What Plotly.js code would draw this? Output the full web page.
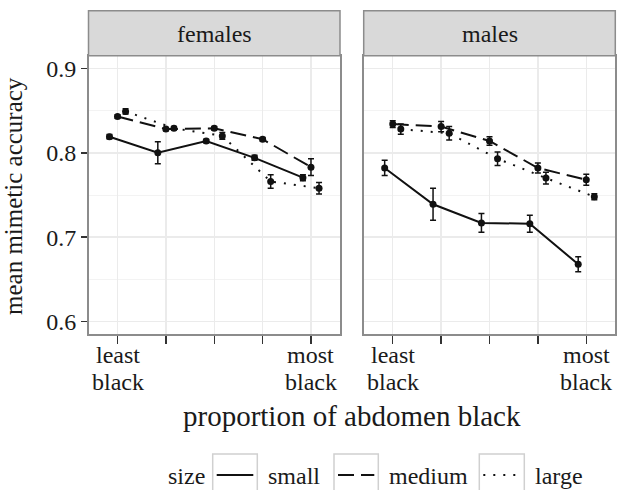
<!DOCTYPE html>
<html>
<head>
<meta charset="utf-8">
<script src="https://cdn.plot.ly/plotly-3.0.1.min.js"></script>
<style>html,body{margin:0;padding:0;background:#fff;}#chart{width:622px;height:490px;}</style>
</head>
<body>
<div id="chart"></div>
<script>
// ---- data ----
var categories = [1, 2, 3, 4, 5];
var tickLabels = ["least black", "", "", "", "most black"];
var panels = ["females", "males"];
var sizes = ["small", "medium", "large"];

var femalesSmall = [0.819, 0.800, 0.814, 0.794, 0.7705];
var femalesSmallErr = [0.0025, 0.013, 0.002, 0.003, 0.0035];
var femalesMedium = [0.843, 0.828, 0.829, 0.816, 0.783];
var femalesMediumErr = [0.002, 0.002, 0.002, 0.002, 0.010];
var femalesLarge = [0.849, 0.829, 0.820, 0.766, 0.758];
var femalesLargeErr = [0.003, 0.002, 0.004, 0.008, 0.0067];

var malesSmall = [0.782, 0.739, 0.717, 0.716, 0.668];
var malesSmallErr = [0.009, 0.019, 0.011, 0.010, 0.009];
var malesMedium = [0.834, 0.831, 0.814, 0.782, 0.768];
var malesMediumErr = [0.004, 0.006, 0.005, 0.006, 0.0065];
var malesLarge = [0.828, 0.823, 0.793, 0.770, 0.748];
var malesLargeErr = [0.006, 0.008, 0.008, 0.007, 0.0035];

var yTicks = [0.6, 0.7, 0.8, 0.9];

// ---- styling ----
var W = 622, H = 490;
function px(p) { return p / W; }
function py(p) { return 1 - p / H; }
var FONT = "Liberation Serif";
var TXT = "#1a1a1a";
var dash = {small: "solid", medium: "16px,7px", large: "2px,8px"};
var dodge = {small: -1 / 6, medium: 0, large: 1 / 6};

var series = {
  females: {small: [femalesSmall, femalesSmallErr], medium: [femalesMedium, femalesMediumErr], large: [femalesLarge, femalesLargeErr]},
  males: {small: [malesSmall, malesSmallErr], medium: [malesMedium, malesMediumErr], large: [malesLarge, malesLargeErr]}
};

var traces = [];
panels.forEach(function (panel, pi) {
  sizes.forEach(function (s) {
    var vals = series[panel][s][0], errs = series[panel][s][1];
    traces.push({
      type: "scatter", mode: "lines+markers",
      x: categories.map(function (c) { return c + dodge[s]; }),
      y: vals,
      xaxis: pi === 0 ? "x" : "x2", yaxis: pi === 0 ? "y" : "y2",
      name: s, showlegend: false,
      line: {color: "#111", width: 2, dash: dash[s]},
      marker: {color: "#111", size: 7},
      error_y: {type: "data", array: errs, visible: true, color: "#111", thickness: 1.5, width: 3}
    });
  });
});

var xd1 = [px(88.5), px(340)], xd2 = [px(363.7), px(615.3)];
var yd = [py(334), py(55.7)];

function xAxis(domain, anchor) {
  return {
    domain: domain, anchor: anchor, range: [0.4, 5.6],
    tickvals: categories, showticklabels: false,
    ticks: "outside", ticklen: 8, tickwidth: 1.5, tickcolor: "#333",
    showgrid: true, gridcolor: "#ebebeb", gridwidth: 1.5,
    zeroline: false, showline: true, mirror: true, linecolor: "#8c8c8c", linewidth: 1.5,
    fixedrange: true
  };
}
function yAxis(anchor, labels) {
  return {
    domain: yd, anchor: anchor, range: [0.58544, 0.91492],
    tickvals: yTicks, tickformat: ".1f", showticklabels: labels,
    ticks: labels ? "outside" : "", ticklen: 6, tickwidth: 1.5, tickcolor: "#333",
    tickfont: {family: FONT, size: 24, color: TXT},
    showgrid: true, gridcolor: "#ebebeb", gridwidth: 1.5,
    minor: {dtick: 0.05, tick0: 0.6, showgrid: true, gridcolor: "#f3f3f3", gridwidth: 1, ticks: ""},
    zeroline: false, showline: true, mirror: true, linecolor: "#8c8c8c", linewidth: 1.5,
    fixedrange: true
  };
}

var shapes = [];
var annotations = [];
[xd1, xd2].forEach(function (d, i) {
  shapes.push({type: "rect", xref: "paper", yref: "paper", x0: d[0], x1: d[1], y0: py(55.7), y1: py(10.7),
    fillcolor: "#d9d9d9", line: {color: "#8c8c8c", width: 1.5}, layer: "above"});
  annotations.push({xref: "paper", yref: "paper", x: (d[0] + d[1]) / 2, y: py(33.5), text: panels[i],
    showarrow: false, xanchor: "center", yanchor: "middle", font: {family: FONT, size: 24, color: TXT}});
  categories.forEach(function (c, k) {
    var parts = tickLabels[k].split(" ");
    if (!tickLabels[k]) return;
    [355, 382].forEach(function (yy, li) {
      annotations.push({xref: i === 0 ? "x" : "x2", yref: "paper", x: c, y: py(yy), text: parts[li],
        showarrow: false, xanchor: "center", yanchor: "middle", font: {family: FONT, size: 24, color: TXT}});
    });
  });
});

// axis titles
annotations.push({xref: "paper", yref: "paper", x: px(352), y: py(416), text: "proportion of abdomen black",
  showarrow: false, xanchor: "center", yanchor: "middle", font: {family: FONT, size: 29, color: TXT}});
annotations.push({xref: "paper", yref: "paper", x: px(13), y: py(196), text: "mean mimetic accuracy", textangle: -90,
  showarrow: false, xanchor: "center", yanchor: "middle", font: {family: FONT, size: 25, color: TXT}});

// legend (drawn as key boxes, lines and labels)
annotations.push({xref: "paper", yref: "paper", x: px(207), y: py(476), text: "size",
  showarrow: false, xanchor: "right", yanchor: "middle", font: {family: FONT, size: 24, color: TXT}});
var keyBoxes = [[212.7, 257.3], [334, 378.3], [479.3, 524.3]];
sizes.forEach(function (s, i) {
  var b = keyBoxes[i];
  shapes.push({type: "rect", xref: "paper", yref: "paper", x0: px(b[0]), x1: px(b[1]), y0: py(498), y1: py(454),
    fillcolor: "#fff", line: {color: "#d0d0d0", width: 1.5}});
  shapes.push({type: "line", xref: "paper", yref: "paper", x0: px(b[0] + 4), x1: px(b[1] - 4), y0: py(475), y1: py(475),
    line: {color: "#111", width: 2, dash: dash[s]}});
  annotations.push({xref: "paper", yref: "paper", x: px(b[1] + 9), y: py(476), text: s,
    showarrow: false, xanchor: "left", yanchor: "middle", font: {family: FONT, size: 24, color: TXT}});
});

var layout = {
  width: W, height: H,
  margin: {l: 0, r: 0, t: 0, b: 0},
  paper_bgcolor: "#fff", plot_bgcolor: "#fff",
  showlegend: false,
  font: {family: FONT, color: TXT},
  xaxis: xAxis(xd1, "y"),
  xaxis2: xAxis(xd2, "y2"),
  yaxis: yAxis("x", true),
  yaxis2: Object.assign(yAxis("x2", false), {matches: "y"}),
  shapes: shapes,
  annotations: annotations
};

Plotly.newPlot("chart", traces, layout, {displayModeBar: false, staticPlot: true});
</script>
</body>
</html>
